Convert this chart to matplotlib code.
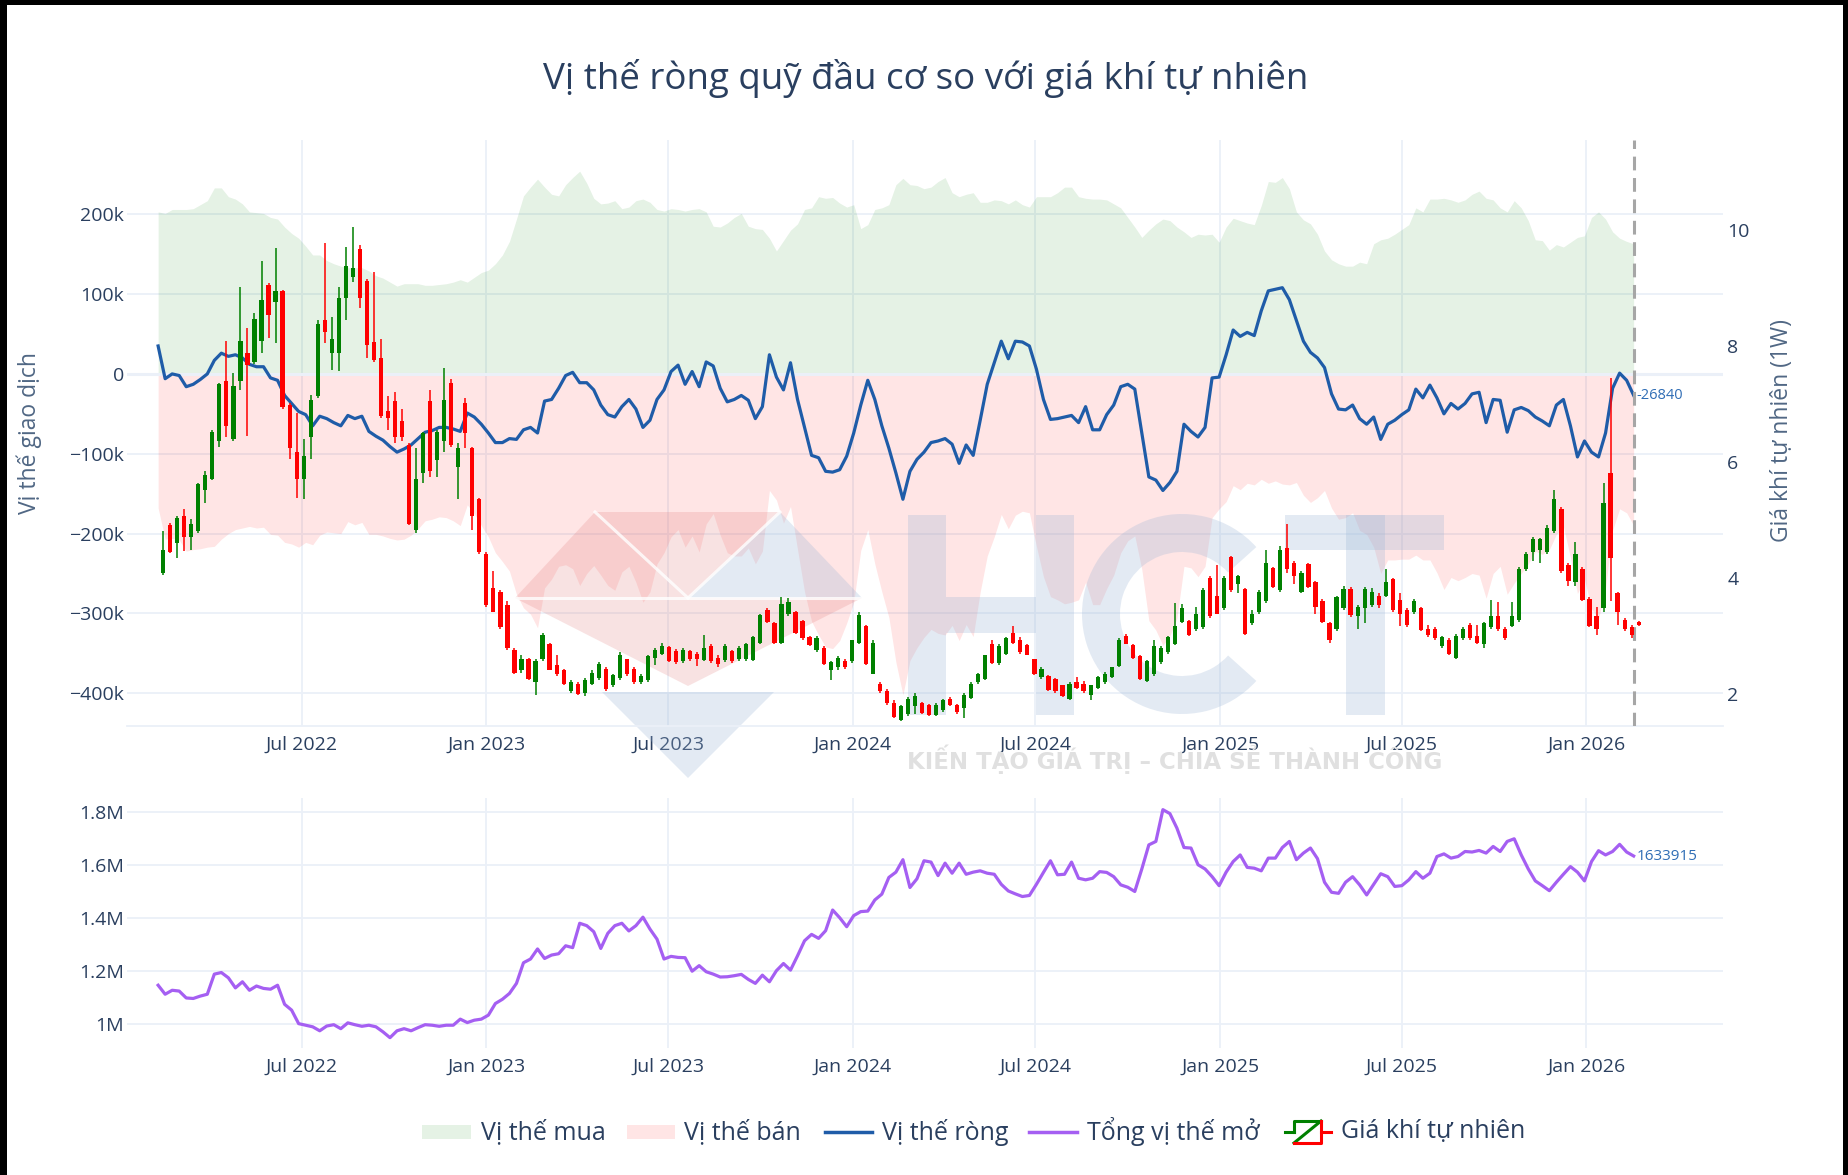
import numpy as np
import matplotlib
matplotlib.use('Agg')
import matplotlib.pyplot as plt
import matplotlib.dates as mdates
from matplotlib.patches import Polygon, Rectangle, Wedge
from matplotlib.lines import Line2D
from matplotlib.transforms import IdentityTransform

plt.rcParams['font.family'] = ['Open Sans', 'DejaVu Sans']

# ---- data (weekly COT report, thousands of contracts) ----
cot_start = '2022-02-08'
candle_start = '2022-02-13'

long_k = [
    203, 201, 206, 206, 206, 207, 212, 217, 233, 233,
    222, 219, 213, 203, 202, 201, 196, 194, 184, 176,
    170, 160, 149, 149, 142, 138, 135, 133, 133, 133,
    129, 123, 120, 115, 110, 113, 113, 113, 111, 111,
    112, 113, 115, 118, 115, 121, 127, 130, 138, 149,
    166, 194, 223, 234, 244, 234, 225, 223, 237, 246,
    254, 239, 220, 213, 214, 217, 207, 209, 217, 219,
    215, 206, 204, 207, 206, 204, 206, 207, 203, 185,
    184, 189, 196, 201, 185, 182, 181, 170, 154, 167,
    180, 188, 206, 208, 222, 220, 221, 214, 209, 212,
    182, 187, 206, 208, 212, 237, 245, 237, 236, 232,
    234, 241, 246, 227, 222, 225, 227, 215, 215, 218,
    217, 213, 218, 212, 209, 222, 222, 222, 227, 234,
    234, 222, 220, 219, 219, 218, 213, 208, 196, 184,
    171, 180, 188, 194, 192, 184, 178, 171, 175, 174,
    175, 165, 184, 195, 192, 189, 187, 211, 241, 240,
    246, 232, 203, 193, 188, 175, 154, 143, 138, 135,
    135, 140, 138, 163, 168, 170, 175, 181, 187, 208,
    203, 219, 219, 220, 218, 215, 218, 225, 229, 220,
    218, 208, 203, 217, 208, 192, 168, 167, 155, 162,
    159, 165, 171, 173, 196, 203, 194, 178, 170, 166,
    163]

short_k = [
    -168, -207, -206, -208, -222, -220, -219, -217, -216, -207,
    -200, -195, -193, -191, -193, -192, -201, -202, -211, -213,
    -217, -211, -214, -202, -198, -199, -200, -185, -189, -186,
    -201, -201, -203, -206, -208, -207, -202, -194, -184, -182,
    -179, -180, -184, -190, -164, -175, -190, -204, -224, -235,
    -247, -276, -293, -301, -318, -268, -257, -241, -239, -244,
    -265, -250, -240, -252, -265, -271, -248, -241, -261, -286,
    -273, -238, -224, -204, -195, -217, -203, -223, -188, -175,
    -202, -224, -228, -228, -218, -238, -222, -146, -158, -187,
    -166, -220, -273, -310, -327, -342, -344, -334, -312, -286,
    -221, -195, -238, -273, -305, -361, -402, -359, -343, -330,
    -320, -325, -327, -315, -334, -314, -329, -273, -228, -204,
    -176, -194, -177, -172, -174, -216, -254, -279, -283, -288,
    -286, -283, -261, -289, -289, -269, -252, -224, -209, -203,
    -245, -309, -321, -340, -328, -306, -241, -243, -254, -241,
    -180, -169, -160, -140, -145, -137, -139, -132, -137, -134,
    -138, -139, -136, -152, -161, -155, -146, -168, -182, -180,
    -174, -196, -201, -217, -250, -233, -233, -232, -232, -227,
    -233, -233, -249, -270, -255, -259, -255, -250, -252, -281,
    -250, -241, -276, -262, -250, -238, -222, -226, -220, -201,
    -191, -230, -275, -257, -294, -307, -268, -196, -169, -174,
    -190]

net_k = [
    35, -6, 0, -2, -16, -13, -7, 0, 17, 26,
    22, 24, 20, 12, 9, 9, -5, -8, -27, -37,
    -47, -51, -65, -53, -56, -61, -65, -52, -56, -53,
    -72, -78, -83, -91, -98, -94, -89, -81, -73, -71,
    -67, -67, -69, -72, -49, -54, -63, -74, -86, -86,
    -81, -82, -70, -67, -74, -34, -32, -18, -2, 2,
    -11, -11, -20, -39, -51, -54, -41, -32, -44, -67,
    -58, -32, -20, 3, 11, -13, 3, -16, 15, 10,
    -18, -35, -32, -27, -33, -56, -41, 24, -4, -20,
    14, -32, -67, -102, -105, -122, -123, -120, -103, -74,
    -39, -8, -32, -65, -93, -124, -157, -122, -107, -98,
    -86, -84, -81, -88, -112, -89, -102, -58, -13, 14,
    41, 19, 41, 40, 35, 6, -32, -57, -56, -54,
    -52, -61, -41, -70, -70, -51, -39, -16, -13, -19,
    -74, -129, -133, -146, -136, -122, -63, -72, -79, -67,
    -5, -4, 24, 55, 47, 52, 48, 79, 104, 106,
    108, 93, 67, 41, 27, 20, 8, -25, -44, -45,
    -39, -56, -63, -54, -82, -63, -58, -51, -45, -19,
    -30, -14, -30, -50, -37, -44, -37, -25, -23, -61,
    -32, -33, -73, -45, -42, -46, -54, -59, -65, -39,
    -32, -65, -104, -84, -98, -104, -74, -18, 1, -8,
    -26.84]

# open interest, millions of contracts
oi_m = [
    1.146, 1.112, 1.127, 1.124, 1.098, 1.096, 1.105, 1.112, 1.188, 1.194,
    1.174, 1.136, 1.159, 1.127, 1.143, 1.134, 1.131, 1.146, 1.074, 1.052,
    1.001, 0.995, 0.989, 0.974, 0.992, 0.997, 0.982, 1.004, 0.997, 0.991,
    0.995, 0.989, 0.970, 0.948, 0.974, 0.982, 0.974, 0.986, 0.997, 0.995,
    0.991, 0.995, 0.995, 1.018, 1.005, 1.014, 1.018, 1.033, 1.077, 1.093,
    1.115, 1.153, 1.231, 1.245, 1.283, 1.247, 1.260, 1.265, 1.295, 1.288,
    1.380, 1.371, 1.348, 1.285, 1.342, 1.371, 1.380, 1.351, 1.371, 1.403,
    1.358, 1.320, 1.245, 1.255, 1.251, 1.250, 1.199, 1.220, 1.197, 1.188,
    1.177, 1.178, 1.182, 1.187, 1.168, 1.153, 1.184, 1.159, 1.201, 1.228,
    1.203, 1.257, 1.314, 1.338, 1.323, 1.352, 1.430, 1.401, 1.367, 1.409,
    1.424, 1.426, 1.468, 1.490, 1.553, 1.573, 1.620, 1.515, 1.548, 1.616,
    1.611, 1.560, 1.607, 1.569, 1.607, 1.565, 1.573, 1.578, 1.569, 1.565,
    1.527, 1.502, 1.491, 1.481, 1.485, 1.527, 1.572, 1.616, 1.563, 1.565,
    1.611, 1.550, 1.544, 1.550, 1.575, 1.572, 1.556, 1.525, 1.516, 1.500,
    1.585, 1.676, 1.689, 1.809, 1.794, 1.739, 1.666, 1.664, 1.601, 1.585,
    1.556, 1.522, 1.573, 1.613, 1.638, 1.591, 1.588, 1.578, 1.626, 1.626,
    1.666, 1.689, 1.620, 1.645, 1.664, 1.624, 1.535, 1.497, 1.493, 1.535,
    1.556, 1.525, 1.487, 1.527, 1.567, 1.556, 1.519, 1.522, 1.544, 1.575,
    1.550, 1.569, 1.632, 1.642, 1.626, 1.632, 1.651, 1.649, 1.655, 1.645,
    1.670, 1.651, 1.689, 1.699, 1.638, 1.585, 1.540, 1.522, 1.503, 1.535,
    1.565, 1.594, 1.573, 1.540, 1.613, 1.654, 1.638, 1.651, 1.678, 1.649,
    1.633915]

# weekly natural gas candles (USD/MMBtu)
price_open = [
    4.08, 4.90, 4.60, 5.06, 4.70, 4.80, 5.51, 5.71, 6.36, 7.40,
    6.39, 7.40, 7.88, 7.72, 8.08, 9.05, 8.76, 8.95, 6.97, 6.16,
    5.71, 6.42, 7.14, 8.44, 7.88, 7.88, 8.82, 9.18, 9.67, 9.12,
    8.06, 7.79, 6.88, 7.04, 6.71, 6.29, 4.83, 5.81, 7.04, 6.03,
    6.36, 7.36, 5.90, 7.01, 6.23, 5.35, 4.41, 3.82, 3.76, 3.53,
    2.75, 2.40, 2.59, 2.20, 2.59, 2.85, 2.49, 2.41, 2.04, 2.17,
    2.01, 2.17, 2.27, 2.43, 2.15, 2.27, 2.59, 2.43, 2.20, 2.23,
    2.62, 2.69, 2.80, 2.73, 2.56, 2.73, 2.69, 2.58, 2.82, 2.62,
    2.58, 2.73, 2.59, 2.59, 2.58, 2.88, 3.44, 3.21, 2.88, 3.37,
    3.40, 3.25, 2.98, 2.75, 2.79, 2.40, 2.46, 2.57, 2.56, 2.88,
    3.16, 2.34, 2.17, 2.04, 1.84, 1.55, 1.65, 1.78, 1.84, 1.81,
    1.63, 1.71, 1.91, 1.81, 1.75, 1.93, 2.20, 2.25, 2.85, 2.53,
    2.69, 3.05, 2.93, 2.84, 2.59, 2.28, 2.30, 2.25, 2.14, 1.91,
    2.20, 2.17, 1.97, 2.10, 2.20, 2.28, 2.47, 2.99, 2.84, 2.64,
    2.21, 2.33, 2.54, 2.71, 2.85, 3.24, 3.25, 3.11, 3.14, 3.99,
    3.69, 3.47, 4.36, 3.89, 3.81, 3.21, 3.40, 3.60, 4.16, 3.79,
    4.51, 4.25, 3.76, 4.23, 3.92, 3.60, 3.21, 3.11, 3.47, 3.81,
    3.34, 3.47, 3.53, 3.69, 3.68, 3.97, 3.62, 3.44, 3.40, 3.47,
    3.12, 3.11, 2.82, 2.92, 2.62, 2.95, 3.18, 2.99, 2.85, 3.14,
    3.34, 3.12, 3.16, 3.27, 4.15, 4.44, 4.47, 4.44, 4.80, 5.19,
    4.21, 3.92, 4.15, 3.63, 3.34, 3.47, 5.81, 3.73, 3.27, 3.14,
    3.24]

price_high = [
    4.80, 4.94, 5.06, 5.19, 5.01, 5.63, 5.84, 6.55, 7.36, 8.08,
    7.53, 9.02, 8.31, 8.56, 9.47, 9.08, 9.68, 8.97, 7.01, 6.84,
    6.39, 7.15, 8.44, 9.77, 8.50, 9.02, 9.70, 10.05, 9.73, 9.15,
    9.27, 8.12, 7.14, 7.20, 6.91, 6.32, 6.23, 6.52, 7.23, 6.55,
    7.62, 7.43, 6.32, 7.10, 6.26, 5.38, 4.44, 4.12, 3.79, 3.60,
    2.79, 2.66, 2.62, 2.59, 3.05, 2.88, 2.66, 2.43, 2.23, 2.20,
    2.27, 2.40, 2.54, 2.46, 2.34, 2.71, 2.60, 2.46, 2.34, 2.67,
    2.79, 2.88, 2.82, 2.77, 2.79, 2.75, 2.71, 3.01, 2.85, 2.66,
    2.86, 2.75, 2.82, 2.88, 2.99, 3.38, 3.47, 3.24, 3.66, 3.64,
    3.42, 3.27, 2.99, 2.99, 2.82, 2.56, 2.64, 2.59, 2.93, 3.40,
    3.19, 2.92, 2.20, 2.07, 1.88, 1.81, 1.94, 2.01, 1.86, 1.82,
    1.84, 1.91, 1.94, 1.82, 2.01, 2.20, 2.36, 2.67, 2.93, 2.85,
    2.98, 3.16, 2.97, 2.86, 2.60, 2.46, 2.32, 2.27, 2.15, 2.20,
    2.28, 2.21, 2.15, 2.30, 2.38, 2.46, 2.95, 3.03, 2.85, 2.66,
    2.58, 2.92, 2.82, 2.99, 3.56, 3.55, 3.27, 3.50, 3.82, 4.02,
    4.21, 4.02, 4.38, 4.05, 3.82, 3.44, 3.79, 4.47, 4.18, 4.54,
    4.92, 4.28, 4.12, 4.25, 3.95, 3.63, 3.23, 3.69, 3.86, 3.84,
    3.53, 3.84, 3.82, 3.73, 4.15, 3.99, 3.73, 3.47, 3.63, 3.50,
    3.18, 3.14, 2.99, 2.95, 3.03, 3.14, 3.21, 3.18, 3.24, 3.62,
    3.58, 3.14, 3.58, 4.18, 4.44, 4.70, 4.68, 4.90, 5.51, 5.22,
    4.25, 4.62, 4.18, 3.66, 3.50, 5.64, 7.45, 3.76, 3.31, 3.18,
    3.25]

price_low = [
    4.05, 4.42, 4.34, 4.46, 4.47, 4.77, 5.29, 5.68, 6.26, 6.42,
    6.36, 7.23, 6.45, 7.69, 7.88, 8.14, 8.05, 6.91, 6.05, 5.38,
    5.35, 6.05, 7.10, 8.05, 7.59, 7.56, 8.44, 9.10, 8.66, 7.79,
    7.72, 6.75, 6.55, 6.32, 6.36, 4.90, 4.77, 5.64, 5.74, 5.74,
    6.16, 6.26, 5.35, 6.23, 4.83, 4.41, 3.50, 3.40, 3.11, 2.75,
    2.33, 2.36, 2.23, 1.97, 2.56, 2.40, 2.30, 2.14, 2.01, 1.97,
    1.95, 2.14, 2.23, 2.04, 2.12, 2.23, 2.30, 2.17, 2.17, 2.20,
    2.49, 2.66, 2.54, 2.51, 2.53, 2.56, 2.47, 2.56, 2.53, 2.45,
    2.54, 2.53, 2.56, 2.56, 2.56, 2.85, 3.21, 2.86, 2.86, 3.34,
    3.03, 2.92, 2.82, 2.72, 2.49, 2.23, 2.40, 2.43, 2.53, 2.85,
    2.49, 2.33, 2.01, 1.81, 1.57, 1.52, 1.62, 1.65, 1.65, 1.62,
    1.62, 1.69, 1.78, 1.65, 1.58, 1.91, 2.17, 2.23, 2.51, 2.49,
    2.66, 2.86, 2.69, 2.66, 2.32, 2.25, 2.04, 2.01, 1.94, 1.89,
    2.08, 2.01, 1.89, 2.08, 2.17, 2.27, 2.46, 2.85, 2.60, 2.23,
    2.20, 2.30, 2.51, 2.69, 2.84, 3.21, 2.99, 3.08, 3.11, 3.31,
    3.37, 3.44, 3.76, 3.73, 3.01, 3.18, 3.37, 3.56, 3.82, 3.76,
    4.08, 3.89, 3.73, 3.82, 3.37, 3.21, 2.88, 3.08, 3.44, 3.32,
    3.11, 3.21, 3.49, 3.47, 3.66, 3.40, 3.16, 3.14, 3.38, 3.08,
    2.98, 2.92, 2.79, 2.67, 2.60, 2.92, 2.92, 2.86, 2.79, 3.11,
    3.08, 2.92, 3.14, 3.24, 4.12, 4.28, 4.25, 4.41, 4.77, 4.08,
    3.86, 3.86, 3.60, 3.14, 3.01, 3.40, 3.60, 3.18, 3.08, 2.95,
    3.16]

price_close = [
    4.47, 4.44, 5.03, 4.70, 4.93, 5.61, 5.77, 6.52, 7.34, 6.62,
    7.30, 8.08, 7.66, 8.47, 8.79, 8.53, 8.95, 6.94, 6.23, 5.71,
    6.10, 7.07, 8.37, 8.24, 8.11, 8.82, 9.38, 9.34, 8.82, 8.01,
    7.75, 6.78, 6.75, 6.42, 6.42, 4.93, 5.71, 6.49, 5.84, 6.52,
    7.07, 6.29, 6.23, 6.49, 5.06, 4.44, 3.53, 3.40, 3.14, 2.79,
    2.36, 2.59, 2.25, 2.56, 3.01, 2.41, 2.33, 2.17, 2.20, 1.99,
    2.23, 2.36, 2.51, 2.07, 2.32, 2.66, 2.33, 2.20, 2.30, 2.64,
    2.75, 2.82, 2.56, 2.54, 2.75, 2.59, 2.59, 2.79, 2.56, 2.51,
    2.82, 2.56, 2.79, 2.85, 2.97, 3.36, 3.24, 2.88, 3.55, 3.58,
    3.05, 2.95, 2.84, 2.95, 2.51, 2.54, 2.62, 2.45, 2.92, 3.36,
    2.51, 2.88, 2.04, 1.84, 1.60, 1.78, 1.91, 1.95, 1.67, 1.63,
    1.81, 1.88, 1.81, 1.68, 1.97, 2.17, 2.33, 2.66, 2.53, 2.82,
    2.95, 2.88, 2.71, 2.67, 2.33, 2.43, 2.06, 2.04, 1.95, 2.17,
    2.10, 2.04, 2.14, 2.28, 2.34, 2.45, 2.93, 2.86, 2.62, 2.25,
    2.56, 2.82, 2.79, 2.97, 3.16, 3.47, 3.01, 3.37, 3.79, 3.34,
    3.38, 3.99, 3.79, 4.02, 3.03, 3.37, 3.76, 4.25, 3.84, 4.47,
    4.15, 4.02, 4.08, 3.84, 3.50, 3.24, 2.92, 3.66, 3.81, 3.36,
    3.50, 3.81, 3.76, 3.53, 3.92, 3.44, 3.38, 3.18, 3.60, 3.10,
    3.01, 2.95, 2.98, 2.69, 2.99, 3.11, 2.95, 2.88, 3.21, 3.34,
    3.11, 2.95, 3.34, 4.15, 4.41, 4.67, 4.66, 4.86, 5.35, 4.12,
    3.95, 4.41, 3.62, 3.16, 3.11, 5.29, 4.34, 3.40, 3.11, 3.01,
    3.18]

x_tick_dates = ['2022-07-01', '2023-01-01', '2023-07-01', '2024-01-01',
                '2024-07-01', '2025-01-01', '2025-07-01', '2026-01-01']
x_tick_labels = ['Jul 2022', 'Jan 2023', 'Jul 2023', 'Jan 2024',
                 'Jul 2024', 'Jan 2025', 'Jul 2025', 'Jan 2026']
pos_ticks = [-400e3, -300e3, -200e3, -100e3, 0, 100e3, 200e3]
pos_labels = ['\u2212400k', '\u2212300k', '\u2212200k', '\u2212100k', '0', '100k', '200k']
price_ticks = [2, 4, 6, 8, 10]
oi_ticks = [1.0e6, 1.2e6, 1.4e6, 1.6e6, 1.8e6]
oi_labels = ['1M', '1.2M', '1.4M', '1.6M', '1.8M']

# ---- prepare ----
week = np.timedelta64(7, 'D')
cot_x = mdates.date2num(np.datetime64(cot_start) + np.arange(len(net_k)) * week)
candle_x = mdates.date2num(np.datetime64(candle_start) + np.arange(len(price_open)) * week)
long_v = np.array(long_k) * 1000
short_v = np.array(short_k) * 1000
net_v = np.array(net_k) * 1000
oi_v = np.array(oi_m) * 1e6
po, ph, pl, pc = (np.array(a) for a in (price_open, price_high, price_low, price_close))

W, H = 1848, 1175
TXT = '#2a3f5f'
GRID = '#ebf0f8'
NET_C = '#1f5ca8'
OI_C = '#a55ff2'
ident = IdentityTransform()

fig = plt.figure(figsize=(W / 100, H / 100), dpi=100)
fig.patch.set_facecolor('white')


def box(x0, y0, x1, y1):
    # pixel box (y measured from top) -> figure fraction rect
    return [x0 / W, 1 - y1 / H, (x1 - x0) / W, (y1 - y0) / H]


def px(pts):
    return [(x, H - y) for x, y in pts]


ax = fig.add_axes(box(127, 140, 1723, 726))
axb = fig.add_axes(box(127, 798, 1723, 1048))
xlim = mdates.date2num(np.array(['2022-01-08', '2026-05-17'], dtype='datetime64[D]'))
xt = mdates.date2num(np.array(x_tick_dates, dtype='datetime64[D]'))

# ---- top panel: positions ----
ax.fill_between(cot_x, 0, long_v, color=(0, 0.5, 0, 0.1), lw=0, zorder=1)
ax.fill_between(cot_x, 0, short_v, color=(1, 0, 0, 0.1), lw=0, zorder=1)
ax.axhline(0, color=GRID, lw=2.2, zorder=1.2)

# watermark (logo + letters + slogan)
wm_red = dict(facecolor='#e07070', alpha=0.2, lw=0, transform=ident, zorder=1.5, clip_on=False)
wm_blue = dict(facecolor='#9bb5d6', alpha=0.28, lw=0, transform=ident, zorder=1.5, clip_on=False)
ax.add_patch(Polygon(px([(515, 598), (595, 512), (688, 598)]), **wm_red))
ax.add_patch(Polygon(px([(595, 512), (780, 512), (688, 598)]), **wm_red))
ax.add_patch(Polygon(px([(688, 598), (780, 512), (862, 598)]), **wm_blue))
ax.add_patch(Polygon(px([(515, 598), (862, 598), (688, 686)]), **wm_red))
ax.add_patch(Polygon(px([(602, 692), (774, 692), (688, 778)]), **wm_blue))
for seg in ([(513, 598), (864, 598)], [(595, 512), (688, 598)], [(780, 512), (688, 598)]):
    ax.add_line(Line2D(*zip(*px(seg)), color='white', lw=2.2, alpha=0.8,
                       transform=ident, zorder=1.6, clip_on=False))
for r in ([908, 515, 946, 715], [1036, 515, 1074, 715], [946, 597, 1036, 633],
          [1285, 515, 1444, 550], [1346, 515, 1385, 715]):
    ax.add_patch(Rectangle((r[0], H - r[3]), r[2] - r[0], r[3] - r[1], **wm_blue))
ax.add_patch(Wedge((1182, H - 614), 100, 42, 318, width=38, **wm_blue))
ax.text(1175, H - 759, 'KIẾN TẠO GIÁ TRỊ – CHIA SẺ THÀNH CÔNG', transform=ident,
        ha='center', va='center', fontsize=16.5, fontweight='bold', color='#e0e0e0',
        family=['Liberation Sans Narrow', 'DejaVu Sans'], zorder=1.6, clip_on=False)

ax.plot(cot_x, net_v, color=NET_C, lw=2.3, zorder=3, solid_joinstyle='round')
ax.annotate(f'{int(round(net_v[-1]))}', (cot_x[-1], net_v[-1]), xytext=(2, 0),
            textcoords='offset points', va='center', ha='left', fontsize=10.5,
            color='#2f6db5', zorder=5)
ax.axvline(cot_x[-1], color='#a6a6a6', lw=2.2, dashes=(4.5, 2.5), zorder=4)

ax.set_xlim(xlim)
ax.set_ylim(-441e3, 293e3)
ax.set_yticks(pos_ticks)
ax.set_yticklabels(pos_labels)
ax.set_xticks(xt)
ax.set_xticklabels(x_tick_labels)
ax.set_axisbelow(True)
ax.grid(True, color=GRID, lw=1.3)
ax.tick_params(length=0, labelsize=14, colors=TXT)
ax.tick_params(axis='y', pad=2)
ax.tick_params(axis='x', pad=7)
for s in ax.spines.values():
    s.set_visible(False)
ax.spines['bottom'].set_visible(True)
ax.spines['bottom'].set_color(GRID)
ax.spines['bottom'].set_linewidth(1.3)

# ---- price candles on right axis ----
ax2 = ax.twinx()
cols = np.where(pc >= po, '#008000', '#ff0000')
ax2.vlines(candle_x, pl, ph, colors=cols, lw=1.1, zorder=3)
body_lo = np.minimum(po, pc)
body_h = np.maximum(np.abs(pc - po), 0.02)
ax2.bar(candle_x, body_h, bottom=body_lo, width=4.2, color=cols, lw=0, zorder=3)
ax2.set_ylim(1.44, 11.55)
ax2.set_yticks(price_ticks)
ax2.tick_params(length=0, labelsize=14, colors=TXT, pad=3)
for s in ax2.spines.values():
    s.set_visible(False)

# ---- bottom panel: open interest ----
axb.plot(cot_x, oi_v, color=OI_C, lw=2.3, solid_joinstyle='round')
axb.annotate(f'{int(round(oi_v[-1]))}', (cot_x[-1], oi_v[-1]), xytext=(2, 0),
             textcoords='offset points', va='center', ha='left', fontsize=11,
             color='#2f6db5')
axb.set_xlim(xlim)
axb.set_ylim(0.909e6, 1.853e6)
axb.set_yticks(oi_ticks)
axb.set_yticklabels(oi_labels)
axb.set_xticks(xt)
axb.set_xticklabels(x_tick_labels)
axb.set_axisbelow(True)
axb.grid(True, color=GRID, lw=1.3)
axb.tick_params(length=0, labelsize=14, colors=TXT)
axb.tick_params(axis='y', pad=2)
axb.tick_params(axis='x', pad=7)
for s in axb.spines.values():
    s.set_visible(False)

# ---- titles ----
fig.text(926 / W, 1 - 78 / H, 'Vị thế ròng quỹ đầu cơ so với giá khí tự nhiên',
         ha='center', va='center', fontsize=26.5, color=TXT)
fig.text(29.5 / W, 1 - 433 / H, 'Vị thế giao dịch', rotation=90, ha='center',
         va='center', fontsize=16.5, color='#506784')
fig.text(1782 / W, 1 - 431 / H, 'Giá khí tự nhiên (1W)', rotation=90, ha='center',
         va='center', fontsize=16.5, color='#506784')

# ---- legend ----
ly = 1132
fig.add_artist(Rectangle((422 / W, 1 - (ly + 7) / H), 49 / W, 14 / H,
                         facecolor=(0, 0.5, 0, 0.1), lw=0, transform=fig.transFigure))
fig.add_artist(Rectangle((627 / W, 1 - (ly + 7) / H), 48 / W, 14 / H,
                         facecolor=(1, 0, 0, 0.1), lw=0, transform=fig.transFigure))
fig.add_artist(Line2D([825 / W, 872 / W], [1 - ly / H] * 2, color=NET_C, lw=2.5,
                      transform=fig.transFigure))
fig.add_artist(Line2D([1029 / W, 1077 / W], [1 - ly / H] * 2, color=OI_C, lw=2.5,
                      transform=fig.transFigure))
# candle icon
for seg, c in (([(1285, ly), (1294, ly)], '#008000'),
               ([(1294, ly), (1294, ly - 11), (1321, ly - 11)], '#008000'),
               ([(1294, ly + 11), (1321, ly - 11)], '#008000'),
               ([(1294, ly + 11), (1321, ly + 11), (1321, ly - 11)], '#ff0000'),
               ([(1321, ly), (1331, ly)], '#ff0000')):
    xs, ys = zip(*seg)
    fig.add_artist(Line2D([x / W for x in xs], [1 - y / H for y in ys], color=c,
                          lw=2.2, transform=fig.transFigure))
for x0, label in ((481, 'Vị thế mua'), (684, 'Vị thế bán'), (882, 'Vị thế ròng'),
                  (1087, 'Tổng vị thế mở'), (1341, 'Giá khí tự nhiên')):
    fig.text(x0 / W, 1 - ly / H, label, ha='left', va='center', fontsize=18, color=TXT)

# ---- black frame of the screenshot ----
for r in (box(0, 0, 7, H), box(0, 0, W, 5), box(1843, 0, W, H)):
    fig.add_artist(Rectangle((r[0], r[1]), r[2], r[3], facecolor='black', lw=0,
                             transform=fig.transFigure))

fig.savefig('out.png', dpi=100, facecolor='white')
